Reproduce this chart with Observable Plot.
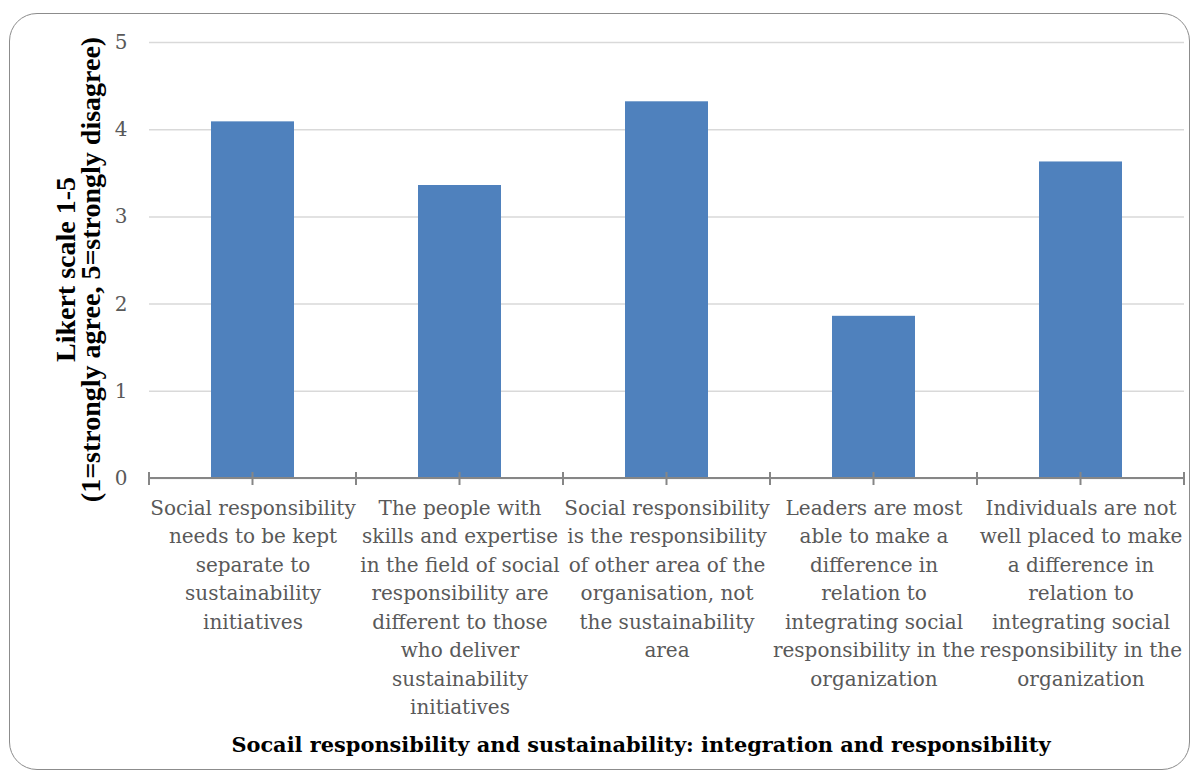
<!DOCTYPE html>
<html><head><meta charset="utf-8">
<script src="https://cdn.jsdelivr.net/npm/d3@7"></script>
<script src="https://cdn.jsdelivr.net/npm/@observablehq/plot@0.6"></script>
<style>
body{margin:0;background:#fff;}
#wrap{position:relative;width:1200px;height:780px;overflow:hidden;background:#fff;}
#border{position:absolute;left:9px;top:13px;width:1181px;height:757px;border:1.5px solid #8c8c8c;border-radius:28px;box-sizing:border-box;}
#chart{position:absolute;left:0;top:0;}
#xtitle{position:absolute;left:0;width:1282px;top:732px;text-align:center;font-family:"DejaVu Serif";font-weight:bold;font-size:20.9px;color:#000;white-space:nowrap;}
</style></head>
<body>
<div id="wrap"><div id="border"></div><div id="chart"></div><div id="xtitle"></div></div>
<script>
const categories = [
  "Social responsibility needs to be kept separate to sustainability initiatives",
  "The people with skills and expertise in the field of social responsibility are different to those who deliver sustainability initiatives",
  "Social responsibility is the responsibility of other area of the organisation, not the sustainability area",
  "Leaders are most able to make a difference in relation to integrating social responsibility in the organization",
  "Individuals are not well placed to make a difference in relation to integrating social responsibility in the organization"
];
const tickLabels = [
  "Social responsibility\nneeds to be kept\nseparate to\nsustainability\ninitiatives",
  "The people with\nskills and expertise\nin the field of social\nresponsibility are\ndifferent to those\nwho deliver\nsustainability\ninitiatives",
  "Social responsibility\nis the responsibility\nof other area of the\norganisation, not\nthe sustainability\narea",
  "Leaders are most\nable to make a\ndifference in\nrelation to\nintegrating social\nresponsibility in the\norganization",
  "Individuals are not\nwell placed to make\na difference in\nrelation to\nintegrating social\nresponsibility in the\norganization"
];
const values = [4.09, 3.36, 4.32, 1.86, 3.63];
const yTicks = [0, 1, 2, 3, 4, 5];
const yTitle = "Likert scale 1-5\n(1=strongly agree, 5=strongly disagree)";
const xTitle = "Socail responsibility and sustainability: integration and responsibility";

const data = categories.map((c, i) => ({category: c, value: values[i], label: tickLabels[i]}));

const axisTicks = (index, scales, vals, dims) => {
  const n = categories.length;
  const left = dims.marginLeft, right = dims.width - dims.marginRight;
  const step = (right - left) / n;
  const y0 = scales.y(0);
  const g = d3.create("svg:g");
  g.append("line").attr("x1", left).attr("x2", right).attr("y1", y0).attr("y2", y0)
    .attr("stroke", "#868686").attr("stroke-width", 2);
  for (let k = 0; k <= 2 * n; k++) {
    const x = left + k * step / 2;
    g.append("line").attr("x1", x).attr("x2", x).attr("y1", y0 - 6).attr("y2", y0 + 7)
      .attr("stroke", "#868686").attr("stroke-width", 2);
  }
  return g.node();
};

const chart = Plot.plot({
  width: 1200,
  height: 730,
  marginLeft: 149,
  marginRight: 16,
  marginTop: 42,
  marginBottom: 252,
  style: {fontFamily: "DejaVu Serif", background: "transparent"},
  x: {type: "band", domain: categories, paddingInner: 0.6, paddingOuter: 0.3, axis: null},
  y: {domain: [0, 5], axis: null},
  marks: [
    Plot.gridY(yTicks, {stroke: "#d9d9d9", strokeOpacity: 1, strokeWidth: 1.5}),
    Plot.axisY(yTicks, {tickSize: 0, tickPadding: 22, fontSize: 20, color: "#595959", label: null, tickFormat: d => String(d), fontFamily: "DejaVu Serif"}),
    Plot.barY(data, {x: "category", y: "value", fill: "#4F81BD"}),
    axisTicks,
    Plot.text(data, {x: "category", text: "label", frameAnchor: "bottom", lineAnchor: "top", dy: 16, fontSize: 20, lineHeight: 1.425, fill: "#595959"}),
    Plot.text([yTitle], {frameAnchor: "left", text: d => d, textAnchor: "middle", rotate: -90, dx: -70, dy: 9, fontSize: 28, lineHeight: 0.88, fontWeight: "bold", fontFamily: "Liberation Serif", fill: "#000"})
  ]
});
document.getElementById("chart").appendChild(chart);
document.getElementById("xtitle").textContent = xTitle;
</script>
</body></html>
